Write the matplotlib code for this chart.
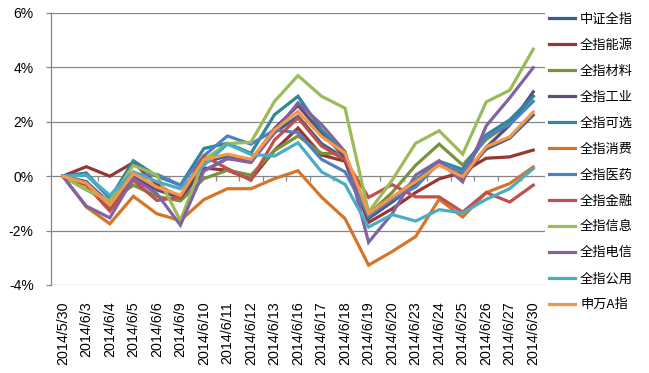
import matplotlib
matplotlib.use("Agg")
import matplotlib.pyplot as plt
from matplotlib.ticker import FuncFormatter

plt.rcParams['font.family'] = ['Liberation Sans', 'Noto Sans CJK SC', 'DejaVu Sans']

dates = ["2014/5/30", "2014/6/3", "2014/6/4", "2014/6/5", "2014/6/6", "2014/6/9",
         "2014/6/10", "2014/6/11", "2014/6/12", "2014/6/13", "2014/6/16", "2014/6/17",
         "2014/6/18", "2014/6/19", "2014/6/20", "2014/6/23", "2014/6/24", "2014/6/25",
         "2014/6/26", "2014/6/27", "2014/6/30"]

names = ["中证全指", "全指能源", "全指材料", "全指工业", "全指可选", "全指消费",
         "全指医药", "全指金融", "全指信息", "全指电信", "全指公用", "申万A指"]

colors = ["#376092", "#953735", "#77933C", "#604A7B", "#31859C", "#D4752A",
          "#4F81BD", "#C0504D", "#9BBB59", "#8064A2", "#4BACC6", "#F79646"]

zz_all = [0, -0.2, -1.0, 0.05, -0.4, -0.75, 0.5, 0.75, 0.6, 1.6, 2.2, 1.2,
          0.65, -1.55, -0.95, -0.3, 0.45, 0.0, 1.0, 1.4, 2.25]
energy = [0, 0.35, 0.0, 0.5, -0.3, -0.8, 0.3, 0.22, -0.12, 0.95, 1.77, 0.78,
          0.55, -1.7, -1.2, -0.6, -0.1, 0.15, 0.66, 0.71, 0.96]
materials = [0, -0.5, -0.95, -0.33, -0.74, -0.91, -0.09, 0.22, 0.04, 0.94, 1.48, 0.84,
             0.81, -1.4, -0.6, 0.4, 1.18, 0.41, 1.35, 1.95, 2.94]
industry = [0, -0.3, -1.2, -0.05, -0.5, -0.8, 0.2, 0.65, 0.55, 1.75, 2.6, 1.6,
            0.7, -1.55, -0.9, -0.2, 0.5, -0.1, 1.06, 1.88, 3.1]
consdisc = [0, 0.12, -0.83, 0.57, 0.0, -0.33, 1.02, 1.21, 0.84, 2.26, 2.94, 1.7,
            0.8, -1.5, -0.8, -0.15, 0.55, 0.25, 1.52, 2.07, 2.94]
staples = [0, -1.13, -1.75, -0.74, -1.38, -1.63, -0.86, -0.46, -0.46, -0.09, 0.2, -0.77,
           -1.56, -3.27, -2.77, -2.22, -0.85, -1.5, -0.6, -0.27, 0.34]
health = [0, 0.05, -0.8, 0.07, 0.07, -0.33, 0.75, 1.48, 1.18, 1.7, 1.6, 0.62,
          0.16, -1.45, -0.85, -0.4, 0.5, 0.15, 1.45, 1.9, 2.75]
finance = [0, -0.33, -1.28, -0.15, -0.89, -0.77, 0.74, 0.28, -0.15, 1.33, 2.14, 1.11,
           0.6, -0.78, -0.31, -0.76, -0.76, -1.32, -0.6, -0.95, -0.33]
infotech = [0, -0.5, -0.9, 0.4, 0.04, -1.63, 0.6, 1.2, 1.25, 2.75, 3.7, 2.94,
            2.5, -1.32, -0.15, 1.21, 1.67, 0.81, 2.73, 3.16, 4.67]
telecom = [0, -1.1, -1.53, -0.08, -0.64, -1.8, 0.2, 0.65, 0.5, 1.6, 2.7, 1.9,
           0.9, -2.43, -1.38, 0.04, 0.57, -0.21, 1.85, 2.88, 3.99]
utilities = [0, 0.04, -0.7, 0.16, -0.2, -0.46, 0.4, 1.18, 0.8, 0.74, 1.23, 0.16,
             -0.3, -1.87, -1.41, -1.65, -1.23, -1.35, -0.85, -0.46, 0.28]
sw_a = [0, -0.25, -1.07, 0.1, -0.4, -0.7, 0.6, 0.81, 0.62, 1.7, 2.38, 1.46,
        0.85, -1.37, -0.77, -0.2, 0.41, -0.02, 1.08, 1.45, 2.36]

series = [zz_all, energy, materials, industry, consdisc, staples,
          health, finance, infotech, telecom, utilities, sw_a]

fig = plt.figure(figsize=(6.49, 3.73), dpi=100)
ax = fig.add_axes([51/649, 1-285/373, (545-51)/649, (285-13)/373])

x = list(range(len(dates)))
for vals, name, c in zip(series, names, colors):
    ax.plot(x, [v/100 for v in vals], color=c, lw=2.3, label=name, solid_joinstyle='miter')

ax.set_xlim(-0.5, len(dates)-0.5)
ax.set_ylim(-0.04, 0.06)
yt = [-0.04, -0.02, 0, 0.02, 0.04, 0.06]
ax.set_yticks(yt)
ax.yaxis.set_major_formatter(FuncFormatter(lambda v, p: f"{v*100:.0f}%"))
for v in yt:
    if v != 0:
        ax.axhline(v, color="#868686", lw=0.9, zorder=0)
ax.axhline(0, color="#868686", lw=0.9, zorder=0)
ax.vlines([i - 0.5 for i in range(1, len(dates)+1)], -0.0018, 0, color="#868686", lw=0.9, zorder=0)

ax.set_xticks(x)
ax.set_xticklabels(dates, rotation=90, fontsize=10.3)
ax.tick_params(axis='x', length=0, pad=12)
ax.tick_params(axis='y', length=3.5, color="#868686", width=0.9, labelsize=10, pad=9)
for s in ['top', 'right', 'bottom']:
    ax.spines[s].set_visible(False)
ax.spines['left'].set_color("#868686")
ax.spines['left'].set_linewidth(0.9)

leg = fig.legend(loc='upper left', bbox_to_anchor=(549/649, 1-13/373), frameon=False,
                 fontsize=9.5, handlelength=2.0, handletextpad=0.35, labelspacing=0.98,
                 borderpad=0, borderaxespad=0)
for t in leg.get_texts():
    t.set_fontfamily(['Noto Sans CJK SC', 'DejaVu Sans'])

fig.savefig("out.png", dpi=100)
